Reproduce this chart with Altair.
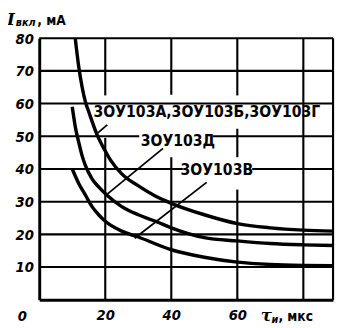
import altair as alt
import pandas as pd

# ---- data ----
tau_agd = [10.9, 12, 13, 14, 15, 17.5, 20, 21.6, 25, 30.4, 35, 40, 50, 60, 70, 80, 89]
i_agd = [80, 71, 65, 60.5, 57.5, 50.5, 45.5, 42.7, 38.5, 34.6, 31.8, 29.5, 26, 23.3, 22, 21.3, 21]

tau_d = [10, 11, 12, 13, 14, 16, 18, 20.7, 25, 30, 35.5, 40, 50, 60, 70, 80, 89]
i_d = [59, 52.5, 48, 44, 41, 37, 34.5, 31.8, 28.5, 26, 23.9, 22, 19, 18, 17.2, 16.8, 16.6]

tau_v = [10, 12, 14, 16, 18, 20, 25, 30, 40, 50, 60, 70, 80, 89]
i_v = [40, 35.5, 32, 28.5, 26, 24, 21, 19.2, 15.3, 13, 11.5, 10.8, 10.5, 10.4]

series_names = ["3ОУ103А,3ОУ103Б,3ОУ103Г", "3ОУ103Д", "3ОУ103В"]

# labels (centre positions, data units)
label_tau = [50.8, 42.0, 53.8]
label_i = [57.3, 48.4, 39.8]

# leader lines (from label to curve)
lead_tau1 = [20.6, 37.5, 50.7]
lead_i1 = [53.5, 46.3, 35.9]
lead_tau2 = [17.1, 20.6, 28.9]
lead_i2 = [50.5, 32.3, 18.8]

# grid segments (interrupted behind the labels as in the original)
hgrid_i = [80, 70, 60, 50, 50, 40, 40, 30, 20, 10]
hgrid_t1 = [0, 0, 0, 0, 52.6, 0, 64.5, 0, 0, 0]
hgrid_t2 = [89, 89, 89, 30.3, 89, 43.5, 89, 89, 89, 89]

vgrid_t = [20, 20, 40, 40, 60, 60, 60, 80, 89]
vgrid_i1 = [62.5, 0, 62.7, 0, 62.5, 43.6, 0, 0, 0]
vgrid_i2 = [80, 49.5, 80, 43.6, 80, 52.3, 33.7, 80, 80]

y_ticks = [10, 20, 30, 40, 50, 60, 70, 80]
x_ticks = [20, 40, 60]

# grid line half-thickness in data units (about 1 px)
HX = 0.32
HY = 0.32

# ---- tables ----
curves = pd.concat([
    pd.DataFrame({"tau": tau_agd, "I": i_agd, "s": series_names[0]}),
    pd.DataFrame({"tau": tau_d, "I": i_d, "s": series_names[1]}),
    pd.DataFrame({"tau": tau_v, "I": i_v, "s": series_names[2]}),
], ignore_index=True)
labels = pd.DataFrame({"tau": label_tau, "I": label_i, "text": series_names})
leaders = pd.DataFrame({"tau": lead_tau1, "I": lead_i1, "tau2": lead_tau2, "I2": lead_i2})
grid = pd.concat([
    pd.DataFrame({"x": hgrid_t1, "x2": hgrid_t2,
                  "y": [v - HY for v in hgrid_i], "y2": [v + HY for v in hgrid_i]}),
    pd.DataFrame({"x": [t - HX for t in vgrid_t], "x2": [t + HX for t in vgrid_t],
                  "y": vgrid_i1, "y2": vgrid_i2}),
], ignore_index=True)

FONT = "DejaVu Sans Condensed, DejaVu Sans"

xs = alt.Scale(domain=[0, 89], nice=False, zero=False)
ys = alt.Scale(domain=[0, 80], nice=False, zero=False)

x_axis = alt.Axis(values=x_ticks, title=None, grid=False, ticks=False,
                  domainColor="black", domainWidth=3, labelColor="black",
                  labelFont=FONT, labelFontSize=15, labelFontWeight="bold",
                  labelFontStyle="italic", labelPadding=8)
y_axis = alt.Axis(values=y_ticks, title=None, grid=False, ticks=False,
                  domainColor="black", domainWidth=3, labelColor="black",
                  labelFont=FONT, labelFontSize=15, labelFontWeight="bold",
                  labelFontStyle="italic", labelPadding=6)


def X(f):
    return alt.X(f, type="quantitative", scale=xs, axis=x_axis)


def Y(f):
    return alt.Y(f, type="quantitative", scale=ys, axis=y_axis)


gr = alt.Chart(grid).mark_rect(color="black", clip=False).encode(
    x=X("x"), x2="x2:Q", y=Y("y"), y2="y2:Q")
lines = alt.Chart(curves).mark_line(
    color="black", strokeWidth=3.5, interpolate="monotone"
).encode(x=X("tau"), y=Y("I"), detail="s:N")
lead = alt.Chart(leaders).mark_rule(color="black", strokeWidth=1.8).encode(
    x=X("tau"), y=Y("I"), x2="tau2:Q", y2="I2:Q")
lab = alt.Chart(labels).mark_text(
    font=FONT, fontSize=16, fontWeight="bold", color="black",
    align="center", baseline="middle"
).encode(x=X("tau"), y=Y("I"), text="text:N")

one = pd.DataFrame({"k": [0]})


def txt(t, px, py, size, style="normal", weight="bold", font=FONT):
    return alt.Chart(one).mark_text(
        text=t, font=font, fontSize=size, fontStyle=style, fontWeight=weight,
        color="black", align="left", baseline="alphabetic"
    ).encode(x=alt.value(px), y=alt.value(py))


extras = [
    txt("0", -22, 290, 15, "italic"),
    txt("τ", 227, 290, 17, "italic", "bold", "DejaVu Serif"),
    txt("и", 238, 292, 11, "italic"),
    txt(", мкс", 245, 290, 14, "normal"),
    txt("I", -33, -14, 17, "italic", "bold", "DejaVu Serif"),
    txt("вкл", -24, -12, 11, "italic"),
    txt(", мА", -2, -14, 14, "normal"),
]

chart = alt.layer(gr, lines, lead, lab, *extras).properties(
    width=301, height=268,
    autosize=alt.AutoSizeParams(type="none"),
    padding={"left": 32, "top": 27, "right": 2, "bottom": 25},
).configure_view(stroke=None)

chart.save("out.html", embed_options={"renderer": "svg", "actions": False})
